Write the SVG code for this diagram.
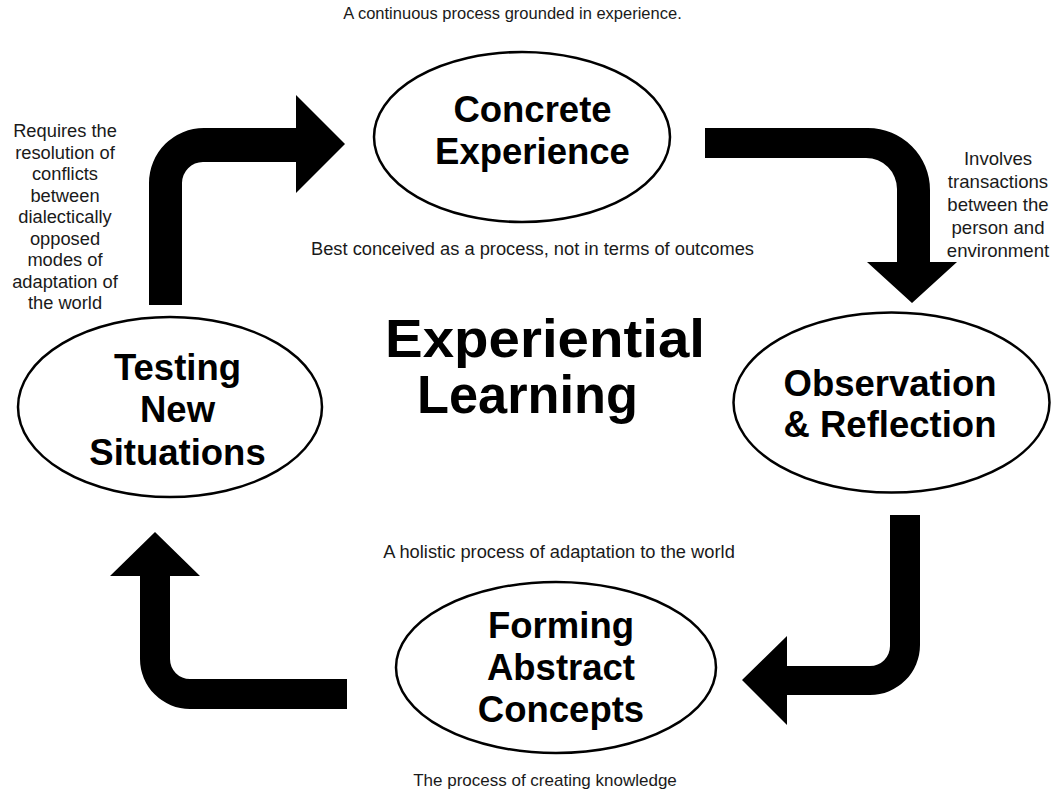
<svg xmlns="http://www.w3.org/2000/svg" width="1056" height="795" viewBox="0 0 1056 795">
<style>
.node ellipse{fill:#fff;stroke:#000;stroke-width:2.5}
.nt{font-family:"Liberation Sans",Arial,sans-serif;font-weight:bold;font-size:36.5px;fill:#000;text-anchor:middle}
.title{font-family:"Liberation Sans",Arial,sans-serif;font-weight:bold;font-size:54px;fill:#000}
.lbl{font-family:"Liberation Sans",Arial,sans-serif;font-size:18.3px;fill:#1a1a1a;text-anchor:middle}
.arrow{fill:#000}
</style>
<rect width="1056" height="795" fill="#fff"/>
<g id="connectors">
<path class="arrow" d="M149,305 L149,183 A55,55 0 0 1 204,128 L296,128 L296,95 L345,144 L296,193 L296,162 L203,162 A21,21 0 0 0 182,183 L182,305 Z"/>
<path class="arrow" d="M705,128 L868,128 A62,62 0 0 1 930,190 L930,262 L957,262 L912,303 L867,262 L897,262 L897,189 A31,31 0 0 0 866,158 L705,158 Z"/>
<path class="arrow" d="M890,515 L920,515 L920,645 A50,50 0 0 1 870,695 L787,695 L787,725 L742,680 L787,636 L787,666 L870,666 A20,20 0 0 0 890,646 Z"/>
<path class="arrow" d="M347,679 L190,679 A20,20 0 0 1 170,659 L170,576 L200,576 L155,532 L110,576 L140,576 L140,659 A50,50 0 0 0 190,709 L347,709 Z"/>
</g>
<g id="concrete" class="node">
<ellipse cx="522" cy="137" rx="148" ry="85"/>
<text class="nt" x="532.5" y="122">Concrete</text>
<text class="nt" x="532.5" y="164">Experience</text>
</g>
<g id="observation" class="node">
<ellipse cx="891.5" cy="402.5" rx="158" ry="90"/>
<text class="nt" x="890" y="396">Observation</text>
<text class="nt" x="890" y="437">&amp; Reflection</text>
</g>
<g id="forming" class="node">
<ellipse cx="556" cy="667.5" rx="160" ry="85.5"/>
<text class="nt" x="561" y="638">Forming</text>
<text class="nt" x="561" y="680">Abstract</text>
<text class="nt" x="561" y="722">Concepts</text>
</g>
<g id="testing" class="node">
<ellipse cx="170" cy="407" rx="152" ry="90"/>
<text class="nt" x="177.5" y="380">Testing</text>
<text class="nt" x="177.5" y="422">New</text>
<text class="nt" x="177.5" y="465">Situations</text>
</g>
<g id="center-title">
<text class="title" x="385" y="357" textLength="320" lengthAdjust="spacingAndGlyphs">Experiential</text>
<text class="title" x="417" y="413" textLength="221" lengthAdjust="spacingAndGlyphs">Learning</text>
</g>
<g id="labels">
<text class="lbl" x="512.5" y="19" style="font-size:16.5px">A continuous process grounded in experience.</text>
<text class="lbl" x="532.5" y="255">Best conceived as a process, not in terms of outcomes</text>
<text class="lbl" x="559" y="558">A holistic process of adaptation to the world</text>
<text class="lbl" x="545" y="786" style="font-size:17px">The process of creating knowledge</text>
<text class="lbl" x="998" y="165" style="font-size:18.6px">Involves</text>
<text class="lbl" x="998" y="188" style="font-size:18.6px">transactions</text>
<text class="lbl" x="998" y="211" style="font-size:18.6px">between the</text>
<text class="lbl" x="998" y="234" style="font-size:18.6px">person and</text>
<text class="lbl" x="998" y="257" style="font-size:18.6px">environment</text>
<text class="lbl" x="65" y="137">Requires the</text>
<text class="lbl" x="65" y="158.5">resolution of</text>
<text class="lbl" x="65" y="180">conflicts</text>
<text class="lbl" x="65" y="201.5">between</text>
<text class="lbl" x="65" y="223">dialectically</text>
<text class="lbl" x="65" y="244.5">opposed</text>
<text class="lbl" x="65" y="266">modes of</text>
<text class="lbl" x="65" y="287.5">adaptation of</text>
<text class="lbl" x="65" y="309">the world</text>
</g>
</svg>
